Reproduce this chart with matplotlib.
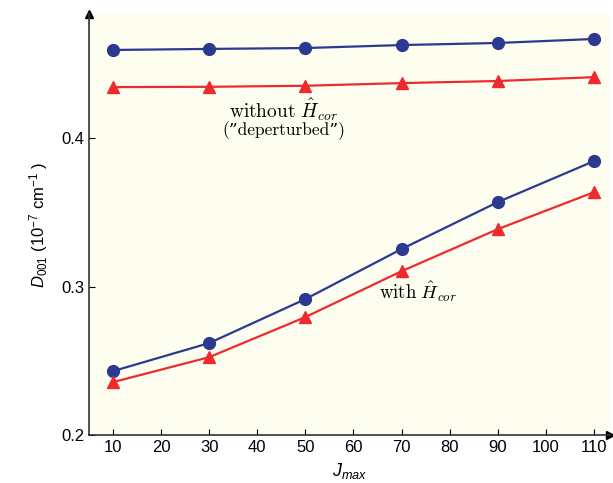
import matplotlib
matplotlib.use("Agg")
import matplotlib.pyplot as plt

jmax = [10, 30, 50, 70, 90, 110]
d_noncor_circle = [0.4593, 0.4600, 0.4606, 0.4626, 0.4640, 0.4667]
d_noncor_tri = [0.4343, 0.4345, 0.4352, 0.4370, 0.4384, 0.4410]
d_cor_circle = [0.2431, 0.2620, 0.2916, 0.3253, 0.3569, 0.3845]
d_cor_tri = [0.2357, 0.2525, 0.2795, 0.3104, 0.3387, 0.3636]
xticks = [10, 20, 30, 40, 50, 60, 70, 80, 90, 100, 110]
yticks = [0.2, 0.3, 0.4]

plt.rcParams['font.family'] = ['Liberation Sans', 'DejaVu Sans']
plt.rcParams['mathtext.fontset'] = 'custom'
plt.rcParams['mathtext.rm'] = 'Liberation Sans'
plt.rcParams['mathtext.it'] = 'Liberation Sans:italic'

blue = '#2b3990'
red = '#ee2a2f'

fig = plt.figure(figsize=(6.13, 4.83), dpi=100)
ax = fig.add_axes([0.145, 0.099, 0.85, 0.872])
ax.set_facecolor('#fdfdf0')

ax.plot(jmax, d_noncor_circle, color=blue, marker='o', ms=8.5, lw=1.6)
ax.plot(jmax, d_noncor_tri, color=red, marker='^', ms=8.5, lw=1.6)
ax.plot(jmax, d_cor_circle, color=blue, marker='o', ms=8.5, lw=1.6)
ax.plot(jmax, d_cor_tri, color=red, marker='^', ms=8.5, lw=1.6)

ax.set_xlim(5, 113.3)
ax.set_ylim(0.2, 0.4835)
ax.set_xticks(xticks)
ax.set_yticks(yticks)
ax.set_yticklabels(['0.2', '0.3', '0.4'])
ax.tick_params(direction='in', labelsize=12, length=4, width=0.8)

for s in ['top', 'right']:
    ax.spines[s].set_visible(False)
for s in ['left', 'bottom']:
    ax.spines[s].set_color('#333333')
    ax.spines[s].set_linewidth(1.2)

# arrow heads at the ends of the axes
ax.plot(1, 0, '>', color='black', ms=6, transform=ax.transAxes, clip_on=False)
ax.plot(0, 1, '^', color='black', ms=6, transform=ax.transAxes, clip_on=False)

ax.set_xlabel(r'$J_{max}$', fontsize=13, labelpad=4)
ax.set_ylabel(r'$D_{001}$ (10$^{-7}$ cm$^{-1}$ )', fontsize=12, labelpad=8)

ax.text(45.5, 0.4140, r'$\mathrm{without}\ \hat{H}_{cor}$', fontsize=14,
        ha='center', math_fontfamily='cm')
ax.text(45.5, 0.4020, '(\u201ddeperturbed\u201d)', fontsize=12.5, ha='center',
        family=['cmr10', 'DejaVu Serif'])
ax.text(73.4, 0.2915, r'$\mathrm{with}\ \hat{H}_{cor}$', fontsize=13.5,
        ha='center', math_fontfamily='cm')

plt.savefig('out.png', dpi=100)
